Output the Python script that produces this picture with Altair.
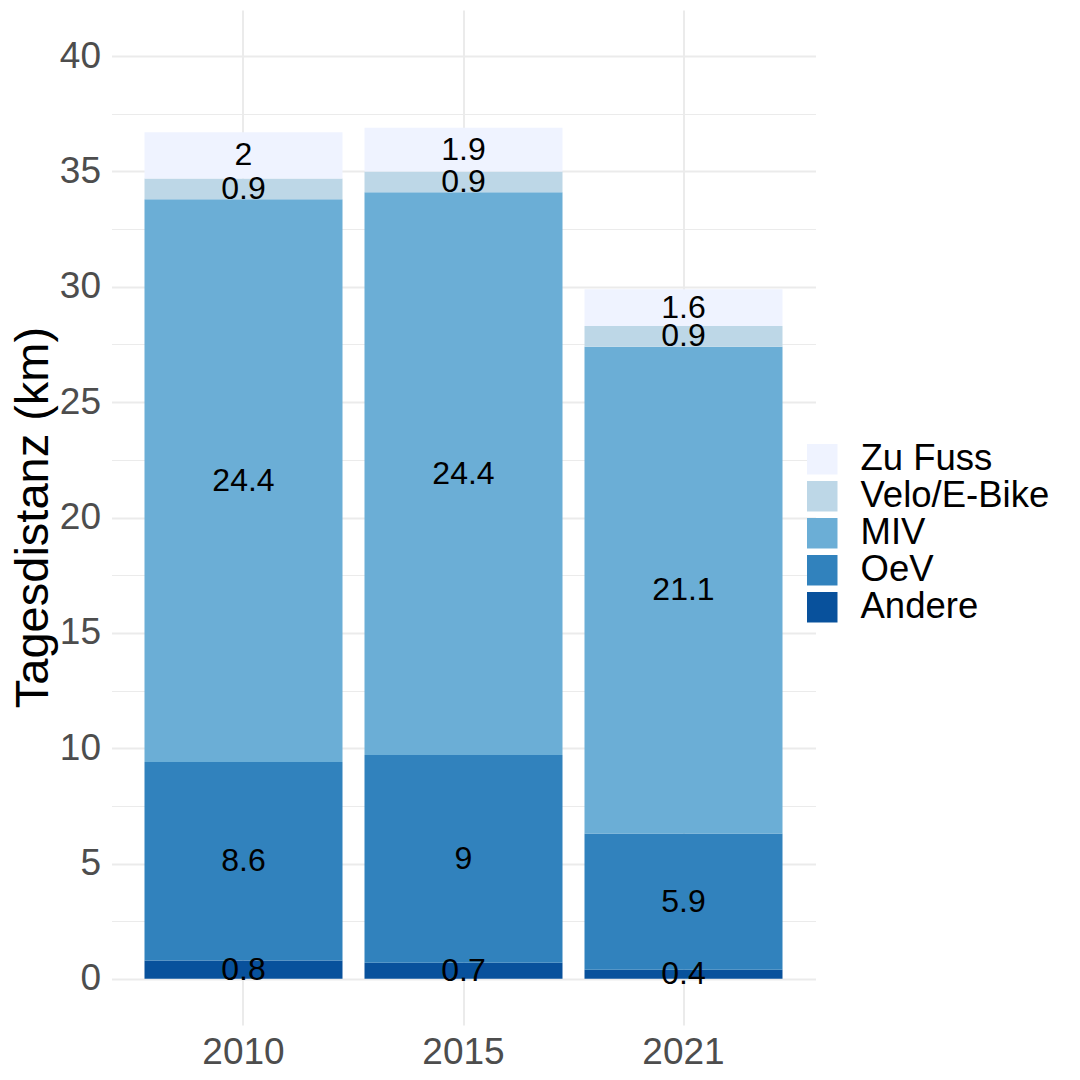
import altair as alt
import pandas as pd

years = ["2010", "2015", "2021"]
modes = ["Andere", "OeV", "MIV", "Velo/E-Bike", "Zu Fuss"]
andere = [0.8, 0.7, 0.4]
oev = [8.6, 9.0, 5.9]
miv = [24.4, 24.4, 21.1]
velo = [0.9, 0.9, 0.9]
fuss = [2.0, 1.9, 1.6]
mode_colors = ["#08519C", "#3182BD", "#6BAED6", "#BDD7E7", "#EFF3FF"]
legend_order = ["Zu Fuss", "Velo/E-Bike", "MIV", "OeV", "Andere"]
y_ticks = [0, 2.5, 5, 7.5, 10, 12.5, 15, 17.5, 20, 22.5, 25, 27.5, 30, 32.5, 35, 37.5, 40]

series = [andere, oev, miv, velo, fuss]
rows = []
for mi, (mode, vals) in enumerate(zip(modes, series)):
    for yi, yr in enumerate(years):
        v = vals[yi]
        rows.append({"year": yr, "mode": mode, "idx": mi, "value": v, "label": f"{v:g}"})
df = pd.DataFrame(rows)

color_scale = alt.Scale(domain=legend_order, range=list(reversed(mode_colors)))
x_enc = alt.X(
    "year:N",
    scale=alt.Scale(paddingInner=0.1, paddingOuter=0.15),
    axis=alt.Axis(
        title=None, labelAngle=0, ticks=False, domain=False, grid=True,
        bandPosition=0.5, gridColor="#EBEBEB", gridWidth=2,
        labelFontSize=37, labelColor="#4D4D4D", labelPadding=9,
        labelFont="Liberation Sans",
    ),
)

base = alt.Chart(df).transform_stack(
    stack="value", groupby=["year"], as_=["v0", "v1"], sort=[alt.SortField("idx", order="ascending")]
).transform_calculate(mid="(datum.v0 + datum.v1) / 2")

y_scale = alt.Scale(domain=[-2, 42], nice=False, zero=False)

bars = base.mark_bar().encode(
    x=x_enc,
    y=alt.Y(
        "v0:Q", scale=y_scale,
        axis=alt.Axis(
            title="Tagesdistanz (km)", values=y_ticks, ticks=False, domain=False,
            labelExpr="datum.value % 5 === 0 ? datum.label : ''",
            gridColor="#EBEBEB",
            gridWidth={"condition": {"test": "datum.value % 5 === 0", "value": 2}, "value": 1.2},
            labelFontSize=37, labelColor="#4D4D4D", labelPadding=11,
            labelFont="Liberation Sans",
            titleFontSize=47, titleColor="black", titleFontWeight="normal",
            titleFont="Liberation Sans",
            titleAngle=-90, titleX=-64.5, titleY=507, titleBaseline="alphabetic",
            titleAlign="center",
        ),
    ),
    y2="v1:Q",
    color=alt.Color(
        "mode:N", scale=color_scale,
        legend=alt.Legend(
            title=None, orient="none", legendX=692.5, legendY=431,
            symbolType="square", symbolSize=930, symbolStrokeWidth=0,
            symbolOpacity=1, labelFontSize=36.5, labelColor="black",
            labelFont="Liberation Sans", labelOffset=20, rowPadding=0,
            labelLimit=400,
        ),
    ),
)

texts = base.mark_text(fontSize=32, color="black", baseline="middle", font="Liberation Sans").encode(
    x=alt.X("year:N"),
    y=alt.Y("mid:Q"),
    text="label:N",
)

chart = alt.layer(bars, texts).properties(
    width=704, height=1015,
    padding={"left": 103.5, "top": 2, "right": 256, "bottom": 54},
    autosize=alt.AutoSizeParams(type="none"),
).configure(background="white").configure_view(stroke=None)

chart.save("out.html", embed_options={"renderer": "svg", "actions": False})
